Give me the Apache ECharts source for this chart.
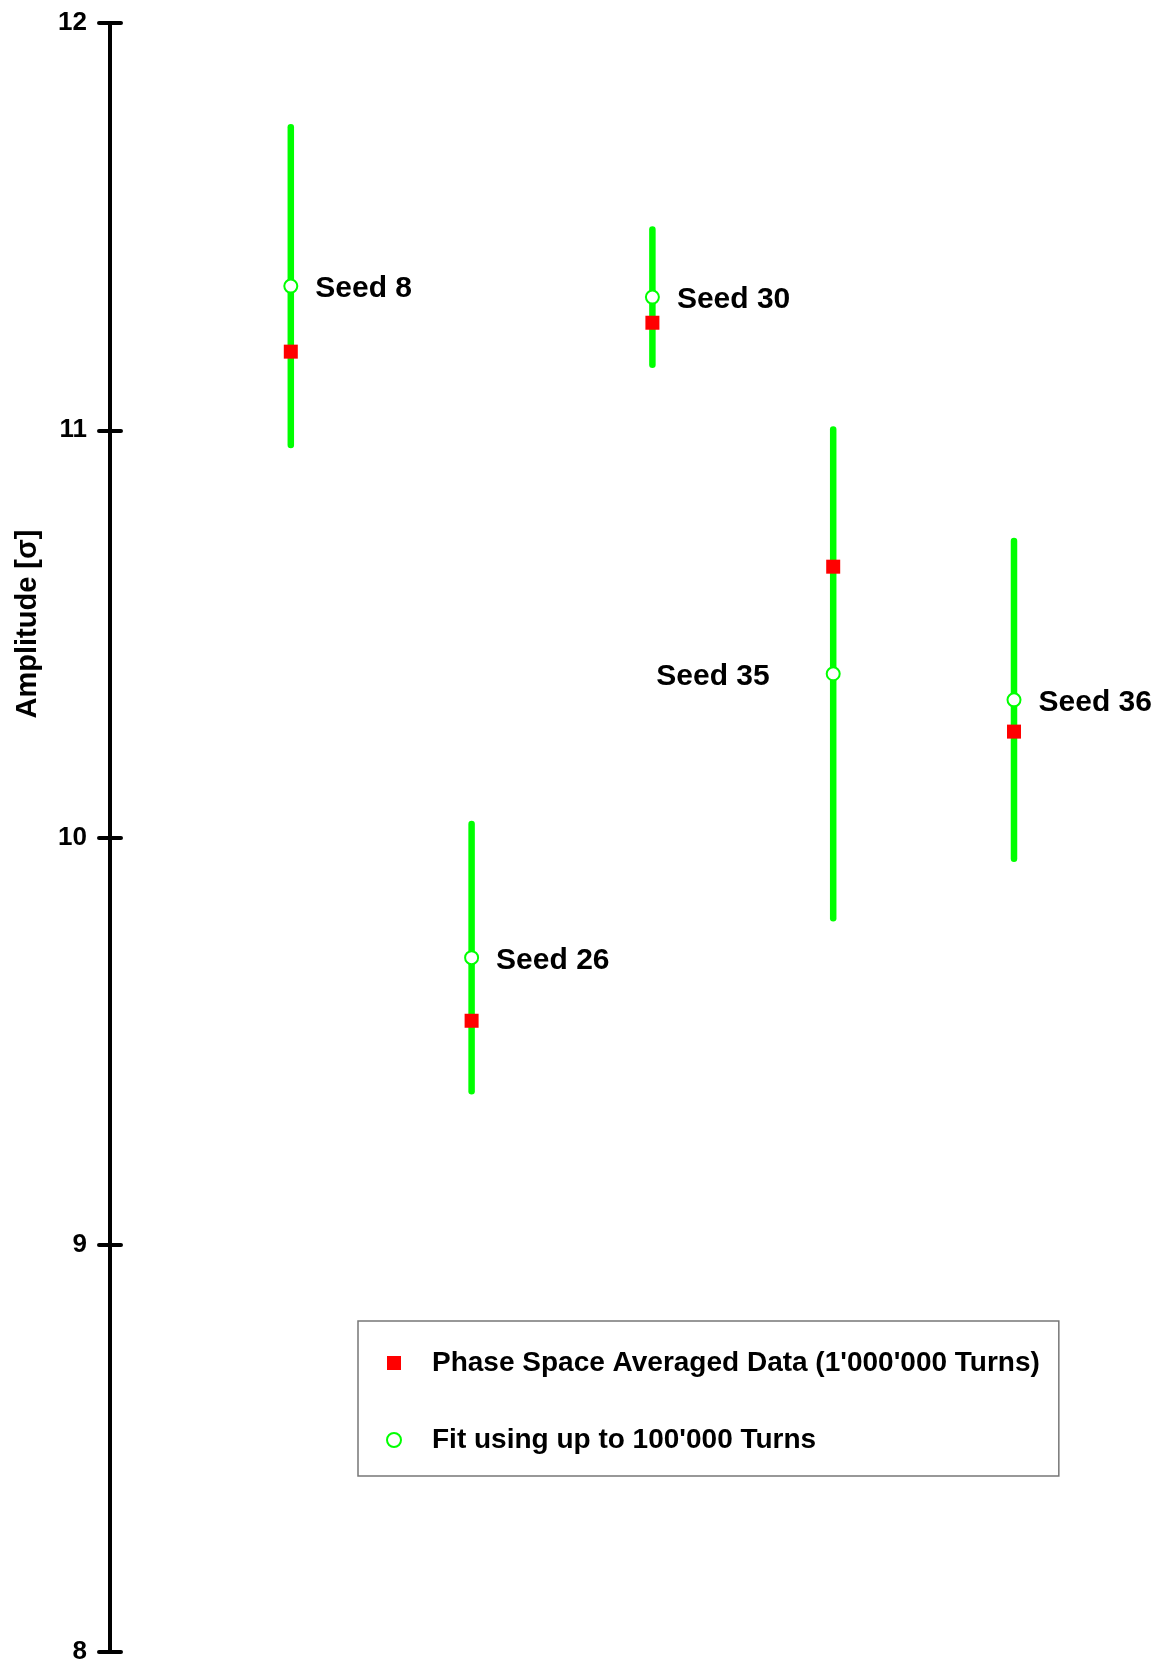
<!DOCTYPE html>
<html>
<head>
<meta charset="utf-8">
<script src="https://cdn.jsdelivr.net/npm/echarts@6/dist/echarts.min.js"></script>
<style>
html,body{margin:0;padding:0;background:#fff;}
#chart{width:1159px;height:1665px;}
</style>
</head>
<body>
<div id="chart"></div>
<script>
// ---- data ----
const seedLabels = ['Seed 8', 'Seed 26', 'Seed 30', 'Seed 35', 'Seed 36'];
const seedX = [1, 2, 3, 4, 5];
const fitValues = [11.354, 9.705, 11.327, 10.402, 10.338];
const fitErrors = [0.390, 0.328, 0.166, 0.600, 0.390];
const phaseAvgValues = [11.193, 9.550, 11.264, 10.665, 10.260];
const yTicks = [8, 9, 10, 11, 12];
const seriesNames = ['Phase Space Averaged Data (1\'000\'000 Turns)', 'Fit using up to 100\'000 Turns'];
const yAxisTitle = 'Amplitude [σ]';

const FONT = '"Liberation Sans", Arial, Helvetica, sans-serif';

const errData = seedX.map((x, i) => [x, fitValues[i], fitErrors[i]]);
const fitData = seedX.map((x, i) => {
  const d = { value: [x, fitValues[i]], name: seedLabels[i] };
  if (seedLabels[i] === 'Seed 35') {
    d.label = { position: 'left', distance: 56 };
  }
  return d;
});
const avgData = seedX.map((x, i) => [x, phaseAvgValues[i]]);

const chart = echarts.init(document.getElementById('chart'), null, { renderer: 'canvas' });

const yBase = {
  type: 'value',
  min: yTicks[0],
  max: yTicks[yTicks.length - 1],
  interval: 1,
  position: 'left',
  splitLine: { show: false }
};

chart.setOption({
  animation: false,
  backgroundColor: '#ffffff',
  grid: { left: 110, right: 54.6, top: 23, bottom: 13, containLabel: false },
  xAxis: {
    type: 'value', min: 0, max: 5.5,
    show: false
  },
  yAxis: [
    Object.assign({}, yBase, {
      axisLine: { show: true, lineStyle: { color: '#000', width: 4, cap: 'round' } },
      axisTick: { show: true, length: 11, lineStyle: { color: '#000', width: 4, cap: 'round' } },
      axisLabel: {
        show: true, margin: 23, color: '#000', fontSize: 26, fontWeight: 'bold', fontFamily: FONT,
        formatter: v => yTicks.indexOf(v) >= 0 ? String(v) : ''
      }
    }),
    Object.assign({}, yBase, {
      axisLine: { show: false },
      axisTick: { show: true, inside: true, length: 11, lineStyle: { color: '#000', width: 4, cap: 'round' } },
      axisLabel: { show: false }
    })
  ],
  legend: {
    orient: 'vertical',
    left: 358, top: 1321,
    padding: [27, 19, 21, 28],
    itemGap: 47,
    itemWidth: 14, itemHeight: 14,
    borderColor: '#777', borderWidth: 1.5,
    data: [seriesNames[0], seriesNames[1]],
    textStyle: { fontSize: 28, fontWeight: 'bold', color: '#000', fontFamily: FONT, padding: [0, 0, 0, 26], lineHeight: 30 }
  },
  graphic: [{
    type: 'text',
    x: 28, y: 624,
    rotation: Math.PI / 2,
    style: {
      text: yAxisTitle, fill: '#000', font: 'bold 29px ' + FONT,
      align: 'center', verticalAlign: 'middle'
    }
  }],
  series: [
    {
      type: 'custom',
      name: 'errorbars',
      xAxisIndex: 0, yAxisIndex: 0,
      data: errData,
      z: 1,
      renderItem: function (params, api) {
        const x = api.value(0), v = api.value(1), e = api.value(2);
        const p1 = api.coord([x, v + e]);
        const p2 = api.coord([x, v - e]);
        return {
          type: 'line',
          shape: { x1: p1[0], y1: p1[1], x2: p2[0], y2: p2[1] },
          style: { stroke: '#00ff00', lineWidth: 6.5, lineCap: 'round' }
        };
      }
    },
    {
      type: 'scatter',
      name: seriesNames[1],
      data: fitData,
      symbol: 'circle',
      symbolSize: 13,
      z: 3,
      itemStyle: { color: '#ffffff', borderColor: '#00ff00', borderWidth: 2, opacity: 1 },
      label: {
        show: true, position: 'right', distance: 17, offset: [0, 3],
        formatter: p => p.name,
        color: '#000', fontSize: 30, fontWeight: 'bold', fontFamily: FONT
      },
      emphasis: { disabled: true }
    },
    {
      type: 'scatter',
      name: seriesNames[0],
      data: avgData,
      symbol: 'rect',
      symbolSize: 14,
      z: 4,
      itemStyle: { color: '#ff0000', opacity: 1 },
      emphasis: { disabled: true }
    }
  ]
});
</script>
</body>
</html>
